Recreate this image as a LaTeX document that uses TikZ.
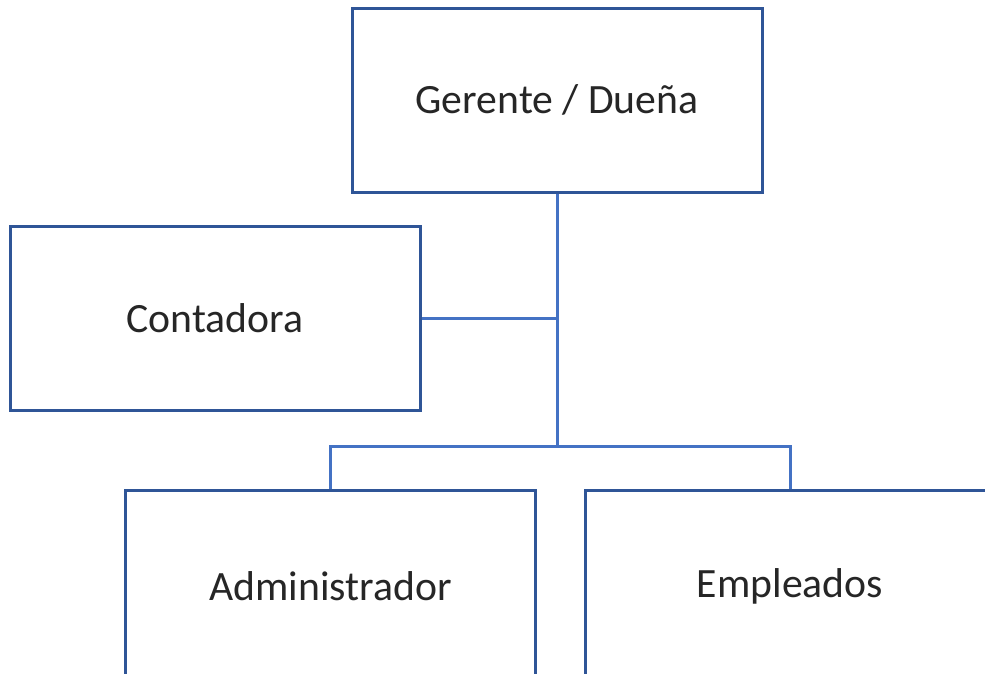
\documentclass[tikz,border=0pt]{standalone}
\usepackage{fontspec}
\setmainfont{Carlito}
\usetikzlibrary{calc}
\newlength{\du}
\setlength{\du}{1pt}
\definecolor{boxcolor}{rgb}{0.184, 0.333, 0.592}
\definecolor{linkcolor}{rgb}{0.267, 0.447, 0.769}

\begin{document}
\begin{tikzpicture}
\tikzstyle{every node}=[font=\fontsize{41.7\du}{50\du}\selectfont, text=black!85]
\tikzstyle{orgbox}=[draw=boxcolor, line width=3\du, fill=white, minimum width=410\du, minimum height=184\du, inner sep=0pt]
\tikzstyle{orglink}=[draw=linkcolor, line width=3\du]
\pgftransformxscale{1.000000}
\pgftransformyscale{-1.000000}
\useasboundingbox (0\du,0\du) rectangle (985\du,673\du);
\clip (0\du,0\du) rectangle (985\du,673\du);
% boxes
\node[orgbox] (gerente) at (557\du,100\du){Gerente / Dueña};
\node[orgbox] (contadora) at (215\du,318\du){Contadora};
\node[orgbox, minimum height=192\du] (admin) at (330.5\du,586\du){Administrador};
\node[orgbox, minimum height=192\du] (empleados) at (790\du,586\du){Empleados};
\coordinate (split) at (557\du,446\du);
% links
\draw[orglink] (gerente.south) -- (split);
\draw[orglink] (contadora.east) -- (contadora.east -| gerente.south);
\draw[orglink] (admin.north) |- (split) -| (empleados.north);
\end{tikzpicture}
\end{document}
